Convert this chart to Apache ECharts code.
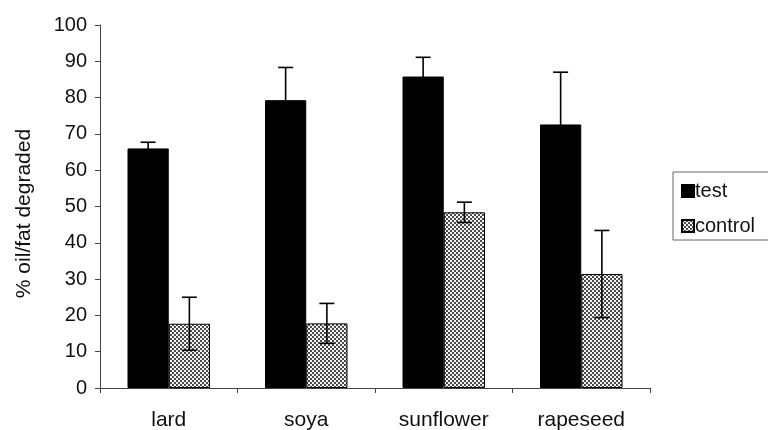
<!DOCTYPE html>
<html>
<head>
<meta charset="utf-8">
<script src="https://cdn.jsdelivr.net/npm/echarts@6/dist/echarts.min.js"></script>
<style>
  html, body { margin: 0; padding: 0; background: #fff; }
  #chart { width: 768px; height: 430px; }
</style>
</head>
<body>
<div id="chart"></div>
<script>
// Oil/fat degradation by substrate: test vs control, mean ± SD
const categories = ['lard', 'soya', 'sunflower', 'rapeseed'];
const testMean = [66.0, 79.3, 85.8, 72.6];
const testSD = [1.7, 9.0, 5.3, 14.4];
const controlMean = [17.7, 17.8, 48.4, 31.4];
const controlSD = [7.3, 5.5, 2.8, 12.0];
const yTicks = [0, 10, 20, 30, 40, 50, 60, 70, 80, 90, 100];

const FONT = 'Liberation Sans, Arial, sans-serif';

// checkered dot fill used for the control bars
function dotPattern() {
  const c = document.createElement('canvas');
  c.width = 4; c.height = 4;
  const g = c.getContext('2d');
  g.fillStyle = '#f4f4f4';
  g.fillRect(0, 0, 4, 4);
  g.fillStyle = '#4a4a4a';
  g.fillRect(0, 0, 2, 2);
  g.fillRect(2, 2, 2, 2);
  return c;
}
const pattern = { image: dotPattern(), repeat: 'repeat' };

const BAR_FRAC = 0.3; // each bar's share of a category band

function errorBars(means, sds, side) {
  return {
    type: 'custom',
    z: 10,
    silent: true,
    renderItem: function (params, api) {
      const i = api.value(0);
      const lo = api.value(1);
      const hi = api.value(2);
      const band = api.size([1, 0])[0];
      const bw = band * BAR_FRAC;
      const top = api.coord([i, hi]);
      const bot = api.coord([i, lo]);
      const x = top[0] + side * bw / 2;
      const cap = 7.5;
      const style = { stroke: '#000', lineWidth: 1.6 };
      return {
        type: 'group',
        children: [
          { type: 'line', shape: { x1: x, y1: top[1], x2: x, y2: bot[1] }, style: style },
          { type: 'line', shape: { x1: x - cap, y1: top[1], x2: x + cap, y2: top[1] }, style: style },
          { type: 'line', shape: { x1: x - cap, y1: bot[1], x2: x + cap, y2: bot[1] }, style: style }
        ]
      };
    },
    data: means.map((m, i) => [i, m - sds[i], m + sds[i]])
  };
}

const chart = echarts.init(document.getElementById('chart'), null, { renderer: 'canvas' });
chart.setOption({
  animation: false,
  backgroundColor: '#ffffff',
  textStyle: { fontFamily: FONT },
  grid: { left: 100, right: 118, top: 25, bottom: 42, containLabel: false, outerBoundsMode: 'none' },
  legend: {
    orient: 'vertical',
    left: 673,
    top: 172,
    itemWidth: 12,
    itemHeight: 12,
    itemGap: 15,
    padding: [9, 40, 4, 8],
    borderColor: '#666',
    borderWidth: 1,
    textStyle: { fontFamily: FONT, fontSize: 20, color: '#111', padding: [0, 0, 0, -4] },
    data: [
      { name: 'test', icon: 'rect' },
      { name: 'control', icon: 'rect' }
    ]
  },
  xAxis: {
    type: 'category',
    data: categories,
    axisLine: { lineStyle: { color: '#444', width: 1 } },
    axisTick: { show: true, alignWithLabel: false, length: 5, lineStyle: { color: '#444' } },
    axisLabel: { fontFamily: FONT, fontSize: 21, color: '#111', margin: 22 }
  },
  yAxis: {
    type: 'value',
    min: 0,
    max: 100,
    interval: 10,
    name: '% oil/fat degraded',
    nameLocation: 'middle',
    nameGap: 65,
    nameRotate: 90,
    nameTextStyle: { fontFamily: FONT, fontSize: 21, color: '#111', padding: [0, 14, 0, 0] },
    splitLine: { show: false },
    axisLine: { show: true, lineStyle: { color: '#444', width: 1 } },
    axisTick: { show: true, length: 5, lineStyle: { color: '#444' } },
    axisLabel: {
      fontFamily: FONT, fontSize: 20, color: '#111', margin: 13,
      formatter: v => (yTicks.indexOf(v) >= 0 ? String(v) : '')
    }
  },
  series: [
    {
      name: 'test',
      type: 'bar',
      data: testMean,
      barWidth: (BAR_FRAC * 100) + '%',
      barGap: '0%',
      itemStyle: { color: '#000', borderColor: '#000', borderWidth: 1 }
    },
    {
      name: 'control',
      type: 'bar',
      data: controlMean,
      barWidth: (BAR_FRAC * 100) + '%',
      barGap: '0%',
      itemStyle: { color: pattern, borderColor: '#000', borderWidth: 1 }
    },
    errorBars(testMean, testSD, -1),
    errorBars(controlMean, controlSD, 1)
  ]
});
</script>
</body>
</html>
